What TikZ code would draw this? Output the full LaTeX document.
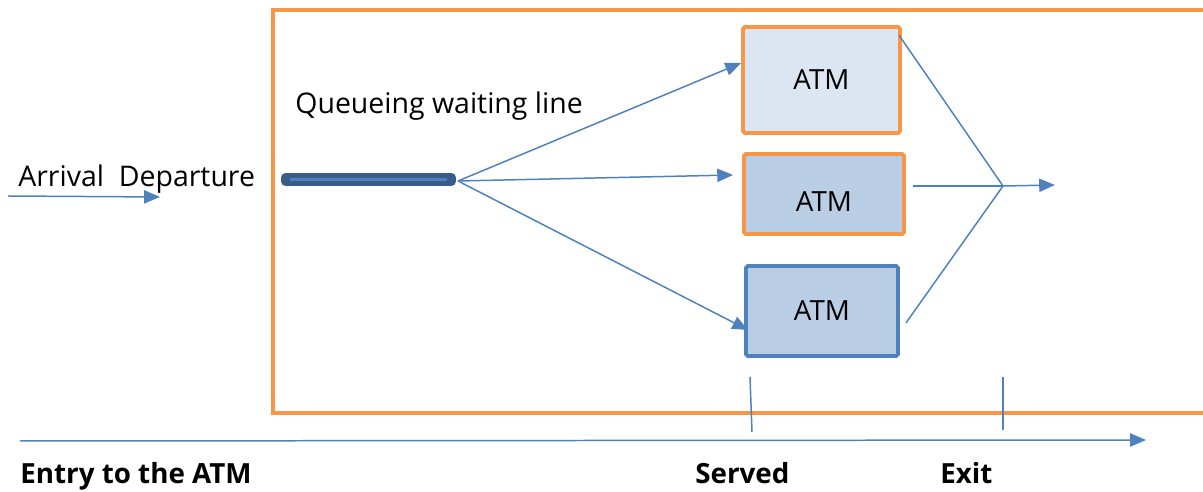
\documentclass[tikz,border=0pt]{standalone}
\usepackage{fontspec}
\setmainfont{Open Sans}
\usetikzlibrary{calc,positioning,arrows.meta}
\definecolor{frameorange}{RGB}{247,150,70}
\definecolor{flowblue}{RGB}{79,129,189}
\definecolor{bardark}{RGB}{56,93,138}
\definecolor{atmlight}{RGB}{220,230,242}
\definecolor{atmfill}{RGB}{185,205,229}

\begin{document}
\begin{tikzpicture}[x=0.02cm,y=-0.02cm]
  \tikzset{
    atm/.style={draw,line width=2.2pt,rounded corners=1pt,inner sep=0pt,font=\fontsize{15.8}{18}\selectfont},
    flow/.style={draw=flowblue,line width=0.85pt},
    arr/.style={flow,-{Triangle[length=9pt,width=7.5pt]}},
    lab/.style={font=\fontsize{16.2}{18}\selectfont,anchor=base west,inner sep=0pt},
    blab/.style={lab,font=\fontsize{15.8}{18}\selectfont\bfseries},
  }
  \useasboundingbox (0,0) rectangle (1203,492);

  % outer frame, open at the right
  \draw[frameorange,line width=2.3pt] (1203,10) -- (273,10) -- (273,413) -- (1203,413);

  % queue bar
  \node[draw=bardark,fill=bardark,line width=1pt,rounded corners=2pt,minimum width=3.46cm,minimum height=0.22cm,inner sep=0pt]
    (queue) at (368.5,179.5) {};
  \draw[flowblue,line width=2pt] ([xshift=5pt]queue.west) -- ([xshift=-5pt]queue.east);
  \coordinate (fork) at (458,181);

  % servers
  \node[atm,draw=frameorange,fill=atmlight,minimum width=3.14cm,minimum height=2.12cm] (atm1) at (821.5,80) {ATM};
  \node[atm,draw=frameorange,fill=atmfill,minimum width=3.2cm,minimum height=1.6cm,text height=19.5pt,text depth=0pt] (atm2) at (824,194) {ATM};
  \node[atm,draw=flowblue,fill=atmfill,minimum width=3.04cm,minimum height=1.8cm] (atm3) at (822,311) {ATM};

  \draw[arr] (fork) -- ($(atm1.west)+(0,-17)$);
  \draw[arr] (fork) -- ($(atm2.west)+(-9,-19)$);
  \draw[arr] (fork) -- ($(atm3.west)+(4,19)$);

  \coordinate (merge) at (1003,186);
  \coordinate (out) at (1055,185);
  \draw[flow] ($(atm1.north east)+(-3,10)$) -- (merge);
  \draw[flow] ($(atm2.east)+(7,-8)$) -- (merge);
  \draw[flow] ($(atm3.east)+(6,12)$) -- (merge);
  \draw[arr] (merge) -- (out);

  % arrival
  \coordinate (inA) at (8,196);
  \coordinate (inB) at (160,197);
  \draw[arr] (inA) -- (inB);
  \node[lab] (arrival) at (18,187) {Arrival~ Departure};
  \node[lab] (qtext) at (295,114) {Queueing waiting line};

  % time line
  \coordinate (tA) at (20,441);
  \coordinate (tB) at (1146,440);
  \draw[arr] (tA) -- (tB);
  \coordinate (srvT) at (750,377);
  \coordinate (srvB) at (752,432);
  \coordinate (exT) at (1003,377);
  \coordinate (exB) at (1003,430);
  \draw[flow] (srvT) -- (srvB);
  \draw[flow] (exT) -- (exB);

  \node[blab] (entry) at (20,484) {Entry to the ATM};
  \node[blab] (served) at (695,484) {Served};
  \node[blab] (exit) at (940,484) {Exit};
\end{tikzpicture}
\end{document}
